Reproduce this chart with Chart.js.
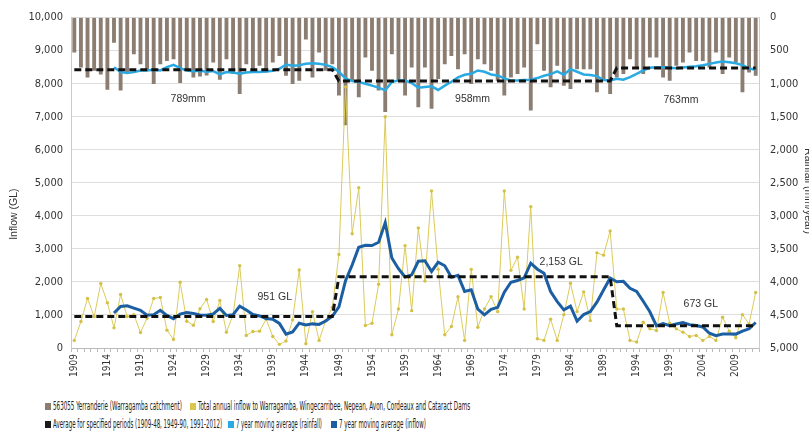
<!DOCTYPE html>
<html>
<head>
<meta charset="utf-8">
<script src="https://cdn.jsdelivr.net/npm/chart.js@4.4.1/dist/chart.umd.min.js"></script>
<style>
  html, body { margin: 0; padding: 0; background: #fff; overflow: hidden; width: 809px; height: 435px; }
  #wrap { position: relative; width: 809px; height: 435px; overflow: hidden; }
  #c { position: absolute; left: 0; top: 0; }
  .item { position: absolute; height: 13px; font: 11.5px "Liberation Sans Narrow", "DejaVu Sans Condensed", sans-serif; color: #222; white-space: nowrap; }
  .item i { position: absolute; left: 0; top: 3px; width: 6px; height: 7px; }
  .item span { position: absolute; left: 8px; top: 0; line-height: 13px; transform-origin: 0 50%; }
</style>
</head>
<body>
<div id="wrap">
  <canvas id="c" width="820" height="392"></canvas>
  <div class="item" style="left:45px;top:400px"><i style="background:#8b7d71"></i><span data-w="129">563055 Yerranderie (Warragamba catchment)</span></div>
  <div class="item" style="left:190px;top:400px"><i style="background:#d9c64b"></i><span data-w="272">Total annual inflow to Warragamba, Wingecarribee, Nepean, Avon, Cordeaux and Cataract Dams</span></div>
  <div class="item" style="left:45px;top:418px"><i style="background:#1a1a1a"></i><span data-w="169">Average for specified periods (1909-48, 1949-90, 1991-2012)</span></div>
  <div class="item" style="left:228px;top:418px"><i style="background:#2aaae2"></i><span data-w="86">7 year moving average (rainfall)</span></div>
  <div class="item" style="left:331px;top:418px"><i style="background:#1b5fa2"></i><span data-w="87">7 year moving average (inflow)</span></div>
</div>
<script>
// years 1909 - 2012
var years = [];
for (var yr = 1909; yr <= 2012; yr++) years.push(String(yr));

// annual rainfall at Yerranderie (mm)
var rainfall = [
  525, 750, 900, 800, 855, 1085, 375, 1100, 825, 550,      // 1909-1918
  700, 775, 1000, 700, 650, 625, 985, 775, 900, 885,       // 1919-1928
  870, 675, 935, 625, 850, 1150, 700, 800, 725, 825,       // 1929-1938
  675, 575, 875, 1000, 950, 325, 900, 525, 800, 700,       // 1939-1948
  1175, 1625, 950, 1200, 600, 800, 1100, 1425, 550, 950,   // 1949-1958
  1175, 750, 1350, 750, 1375, 925, 700, 575, 775, 550,     // 1959-1968
  1000, 625, 700, 800, 950, 1175, 900, 850, 750, 1400,     // 1969-1978
  400, 800, 1050, 725, 1025, 1075, 775, 775, 775, 1125,    // 1979-1988
  950, 1150, 900, 850, 625, 750, 850, 600, 600, 900,       // 1989-1998
  950, 725, 675, 525, 650, 650, 750, 525, 850, 600,        // 1999-2008
  675, 1125, 825, 875                                      // 2009-2012
];

// total annual inflow (GL)
var inflow = [
  230, 800, 1500, 950, 1950, 1370, 610, 1620, 950, 1010,   // 1909-1918
  470, 900, 1500, 1530, 540, 260, 1990, 810, 690, 1190,    // 1919-1928
  1470, 800, 1440, 480, 1000, 2490, 380, 500, 510, 870,    // 1929-1938
  350, 110, 210, 850, 2360, 130, 1100, 230, 830, 1230,     // 1939-1948
  2830, 7900, 3460, 4850, 680, 750, 1930, 7000, 400, 1180, // 1949-1958
  3100, 1130, 3630, 2030, 4750, 2380, 400, 650, 1550, 230, // 1959-1968
  2380, 630, 1180, 1550, 1100, 4750, 2350, 2750, 1180, 4280, // 1969-1978
  280, 230, 870, 230, 1010, 1960, 1100, 1700, 830, 2880,   // 1979-1988
  2810, 3540, 1180, 1180, 230, 180, 780, 580, 530, 1680,   // 1989-1998
  750, 580, 480, 350, 380, 230, 350, 230, 930, 510,        // 1999-2008
  310, 1010, 730, 1680                                     // 2009-2012
];

// 7 year moving average of rainfall (mm)
var rainAvg7 = [
  null, null, null, null, null, null,                      // 1909-1914
  750, 825, 840, 825, 800, 800, 790, 800, 750, 715,        // 1915-1924
  765, 800, 810, 805, 820, 810, 860, 825, 830, 850,        // 1925-1934
  830, 825, 825, 815, 805, 775, 710, 730, 720, 700,        // 1935-1944
  690, 700, 715, 750, 820, 920, 960, 975, 1000, 1030,      // 1945-1954
  1060, 1100, 975, 950, 950, 990, 1060, 1050, 1040, 1095,  // 1955-1964
  1030, 970, 905, 865, 850, 800, 820, 860, 875, 920,       // 1965-1974
  950, 950, 945, 940, 915, 880, 855, 815, 865, 780,        // 1975-1984
  820, 860, 870, 885, 945, 950, 925, 940, 900, 850,        // 1985-1994
  800, 760, 750, 750, 760, 765, 755, 745, 735, 720,        // 1995-2004
  700, 680, 665, 675, 690, 720, 770, 790                   // 2005-2012
];

// 7 year moving average of inflow (GL)
var inflowAvg7 = [
  null, null, null, null, null, null,                      // 1909-1914
  1060, 1257, 1279, 1209, 1140, 990, 1009, 1140, 986, 887, // 1915-1924
  1027, 1076, 1046, 1001, 993, 1030, 1199, 983, 1010, 1267, // 1925-1934
  1151, 1013, 971, 890, 871, 744, 419, 486, 751, 697,      // 1935-1944
  730, 713, 816, 961, 1244, 2036, 2511, 3047, 3111, 3100,  // 1945-1954
  3200, 3796, 2724, 2399, 2149, 2213, 2624, 2639, 2317, 2600, // 1955-1964
  2489, 2139, 2199, 1713, 1763, 1174, 1003, 1167, 1231, 1689, // 1965-1974
  1991, 2044, 2123, 2566, 2384, 2260, 1706, 1403, 1154, 1266, // 1975-1984
  811, 1014, 1100, 1387, 1756, 2117, 2006, 2017, 1807, 1714, // 1985-1994
  1414, 1096, 666, 737, 676, 726, 769, 707, 679, 636,      // 1995-2004
  446, 371, 421, 426, 420, 510, 581, 771                   // 2005-2012
];

// period averages
var periodStart = [1909, 1949, 1991];
var periodEnd = [1948, 1990, 2012];
var periodRain = [789, 958, 763];
var periodInflow = [951, 2153, 673];

function periodSeries(vals) {
  return years.map(function (y) {
    y = +y;
    for (var i = 0; i < periodStart.length; i++) {
      if (y >= periodStart[i] && y <= periodEnd[i]) return vals[i];
    }
    return null;
  });
}

var notes = [
  { text: '789mm', year: 1926.2, axis: 'y1', value: 1238 },
  { text: '958mm', year: 1969.2, axis: 'y1', value: 1231 },
  { text: '763mm', year: 2000.7, axis: 'y1', value: 1246 },
  { text: '951 GL', year: 1939.3, axis: 'y', value: 1531 },
  { text: '2,153 GL', year: 1982.6, axis: 'y', value: 2613 },
  { text: '673 GL', year: 2003.7, axis: 'y', value: 1321 }
];

var FONT = '"Liberation Sans Narrow", "DejaVu Sans Condensed", sans-serif';

var textPlugin = {
  id: 'texts',
  afterDatasetsDraw: function (chart) {
    var ctx = chart.ctx, s = chart.scales;
    ctx.save();
    ctx.fillStyle = '#333';
    ctx.textAlign = 'center';
    ctx.textBaseline = 'middle';
    ctx.font = '10.5px "Liberation Sans", Arial, sans-serif';
    notes.forEach(function (n) {
      ctx.fillText(n.text, s.x.getPixelForValue(n.year - 1909), s[n.axis].getPixelForValue(n.value));
    });
    // axis titles
    ctx.save();
    ctx.translate(14, s.y.getPixelForValue(4050));
    ctx.rotate(-Math.PI / 2);
    ctx.fillText('Inflow (GL)', 0, 0);
    ctx.restore();
    ctx.save();
    ctx.translate(808, s.y1.getPixelForValue(2625));
    ctx.rotate(Math.PI / 2);
    ctx.fillText('Rainfall (mm/year)', 0, 0);
    ctx.restore();
    ctx.restore();
  }
};

new Chart(document.getElementById('c'), {
  type: 'bar',
  data: {
    labels: years,
    datasets: [
      { type: 'line', label: 'Average for specified periods (inflow)', data: periodSeries(periodInflow), yAxisID: 'y',
        borderColor: '#111', borderWidth: 3, borderDash: [7, 4], pointRadius: 0, tension: 0, order: 0 },
      { type: 'line', label: 'Average for specified periods (rainfall)', data: periodSeries(periodRain), yAxisID: 'y1',
        borderColor: '#111', borderWidth: 3, borderDash: [7, 4], pointRadius: 0, tension: 0, order: 0 },
      { type: 'line', label: '7 year moving average (inflow)', data: inflowAvg7, yAxisID: 'y',
        borderColor: '#1b5fa2', borderWidth: 3, pointRadius: 0, tension: 0, order: 1 },
      { type: 'line', label: '7 year moving average (rainfall)', data: rainAvg7, yAxisID: 'y1',
        borderColor: '#2aaae2', borderWidth: 2.5, pointRadius: 0, tension: 0, order: 2 },
      { type: 'line', label: 'Total annual inflow', data: inflow, yAxisID: 'y',
        borderColor: '#dccb5a', borderWidth: 1, pointRadius: 1.7, pointBorderWidth: 0,
        pointBackgroundColor: '#d4c148', tension: 0, order: 3 },
      { type: 'bar', label: '563055 Yerranderie (Warragamba catchment)', data: rainfall, yAxisID: 'y1',
        backgroundColor: '#8b7d71', barThickness: 3.2, order: 4 }
    ]
  },
  options: {
    responsive: false,
    animation: false,
    layout: { padding: { top: 15, left: 0, right: 0, bottom: 0 } },
    plugins: { legend: { display: false }, tooltip: { enabled: false } },
    scales: {
      x: {
        offset: true,
        grid: { drawOnChartArea: false, color: '#bbb', tickLength: 4 },
        border: { color: '#bbb' },
        ticks: {
          autoSkip: false, maxRotation: 90, minRotation: 90, padding: 2,
          color: '#333', font: { family: FONT, size: 10 },
          callback: function (v, i) { return i % 5 === 0 ? this.getLabelForValue(v) : ''; }
        },
        afterFit: function (sc) { sc.height = 44; }
      },
      y: {
        position: 'left', min: 0, max: 10000,
        grid: { color: '#dedede', drawTicks: false },
        border: { color: '#ccc' },
        ticks: { stepSize: 1000, padding: 8, color: '#333', font: { family: FONT, size: 11 } },
        afterFit: function (sc) { sc.width = 71; }
      },
      y1: {
        position: 'right', min: 0, max: 5000, reverse: true,
        grid: { drawOnChartArea: false, drawTicks: false },
        border: { color: '#ccc' },
        ticks: { stepSize: 500, padding: 11, color: '#333', font: { family: FONT, size: 11 } },
        afterFit: function (sc) { sc.width = 61; }
      }
    }
  },
  plugins: [textPlugin]
});

// squeeze legend text to the condensed widths of the original
document.querySelectorAll('.item span').forEach(function (sp) {
  var w = sp.getBoundingClientRect().width;
  var target = +sp.getAttribute('data-w');
  if (w > 0) sp.style.transform = 'scaleX(' + (target / w).toFixed(3) + ')';
});
</script>
</body>
</html>
